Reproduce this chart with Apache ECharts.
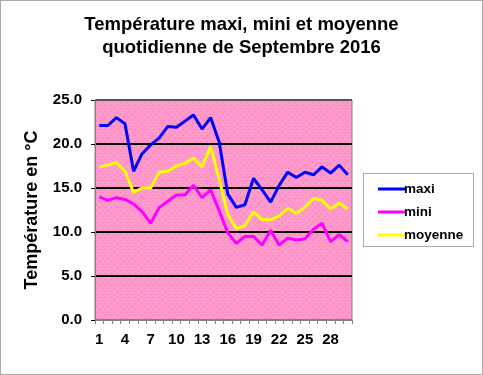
<!DOCTYPE html>
<html><head><meta charset="utf-8">
<script src="https://cdn.jsdelivr.net/npm/echarts@6/dist/echarts.min.js"></script>
<style>html,body{margin:0;padding:0;background:#fff}#c{width:483px;height:375px}</style>
</head><body><div id="c"></div>
<script>
var days = [];
for (var d = 1; d <= 30; d++) days.push(String(d));
var maxi = [22.1, 22.1, 23.0, 22.3, 16.9, 18.9, 19.9, 20.7, 22.0, 21.9, 22.6, 23.3, 21.7, 23.0, 20.2, 14.3, 12.8, 13.1, 16.1, 14.8, 13.4, 15.3, 16.8, 16.2, 16.8, 16.5, 17.4, 16.7, 17.6, 16.5];
var mini = [14.0, 13.6, 13.9, 13.7, 13.2, 12.3, 11.0, 12.8, 13.5, 14.2, 14.2, 15.3, 13.9, 14.8, 12.4, 9.9, 8.7, 9.5, 9.5, 8.5, 10.2, 8.5, 9.3, 9.1, 9.2, 10.3, 11.0, 8.9, 9.7, 8.9];
var moyenne = [17.4, 17.6, 17.9, 16.9, 14.5, 15.0, 15.0, 16.8, 16.9, 17.5, 17.8, 18.4, 17.4, 19.7, 16.0, 12.0, 10.4, 10.7, 12.3, 11.4, 11.4, 11.8, 12.7, 12.1, 12.8, 13.8, 13.6, 12.6, 13.3, 12.6];

var pc = document.createElement('canvas');
pc.width = 6; pc.height = 6;
var ctx = pc.getContext('2d');
ctx.fillStyle = '#ff99cc'; ctx.fillRect(0, 0, 6, 6);
ctx.fillStyle = '#e77fb0'; ctx.fillRect(0, 0, 1, 1); ctx.fillRect(3, 3, 1, 1);

var font = '"Liberation Sans", Arial, sans-serif';
var chart = echarts.init(document.getElementById('c'), null, {renderer: 'canvas'});
chart.setOption({
  animation: false,
  backgroundColor: '#ffffff',
  title: {
    text: 'Température maxi, mini et moyenne\nquotidienne de Septembre 2016',
    left: 'center', top: 8,
    textStyle: {fontFamily: font, fontSize: 18.5, fontWeight: 'bold', color: '#000', lineHeight: 23}
  },
  grid: {left: 95, right: 131, top: 100, bottom: 55, show: true,
    backgroundColor: {image: pc, repeat: 'repeat'},
    borderColor: '#808080', borderWidth: 1},
  legend: {
    orient: 'vertical', left: 373, top: 177, itemGap: 9, itemWidth: 28, itemHeight: 3,
    icon: 'rect',
    data: ['maxi', 'mini', 'moyenne'],
    textStyle: {fontFamily: font, fontSize: 13.5, fontWeight: 'bold', color: '#000', padding: [0, 0, 0, -7]}
  },
  graphic: [
    {type: 'rect', shape: {x: 0.5, y: 0.5, width: 482, height: 374}, style: {fill: 'none', stroke: '#555', lineWidth: 1, lineDash: [1, 1]}, z: 100},
    {type: 'rect', shape: {x: 363.5, y: 173.5, width: 110, height: 73}, style: {fill: 'none', stroke: '#555', lineWidth: 1, lineDash: [1, 1]}, z: 100}
  ],
  xAxis: {
    type: 'category', data: days, boundaryGap: true,
    axisLine: {lineStyle: {color: '#808080', width: 1}},
    axisTick: {show: true, interval: 0, length: 4, lineStyle: {color: '#808080'}},
    axisLabel: {interval: 2, margin: 12, fontFamily: font, fontSize: 15, fontWeight: 'bold', color: '#000'},
    splitLine: {show: false}
  },
  yAxis: {
    type: 'value', min: 0, max: 25, interval: 5,
    name: 'Température en °C', nameLocation: 'middle', nameGap: 54,
    nameTextStyle: {fontFamily: font, fontSize: 18, fontWeight: 'bold', color: '#000'},
    axisLine: {show: true, lineStyle: {color: '#808080', width: 1}},
    axisTick: {show: true, length: 4, lineStyle: {color: '#000'}},
    axisLabel: {formatter: function (v) { return v.toFixed(1); }, margin: 13, fontFamily: font, fontSize: 15, fontWeight: 'bold', color: '#000'},
    splitLine: {show: true, lineStyle: {color: ['#808080', '#000', '#000', '#000', '#000', '#555'], width: 2}}
  },
  series: [
    {name: 'maxi', type: 'line', data: maxi, symbol: 'none', lineStyle: {color: '#0000ff', width: 3}, itemStyle: {color: '#0000ff'}},
    {name: 'mini', type: 'line', data: mini, symbol: 'none', lineStyle: {color: '#ff00ff', width: 3}, itemStyle: {color: '#ff00ff'}},
    {name: 'moyenne', type: 'line', data: moyenne, symbol: 'none', lineStyle: {color: '#ffff00', width: 3}, itemStyle: {color: '#ffff00'}}
  ]
});
</script></body></html>
